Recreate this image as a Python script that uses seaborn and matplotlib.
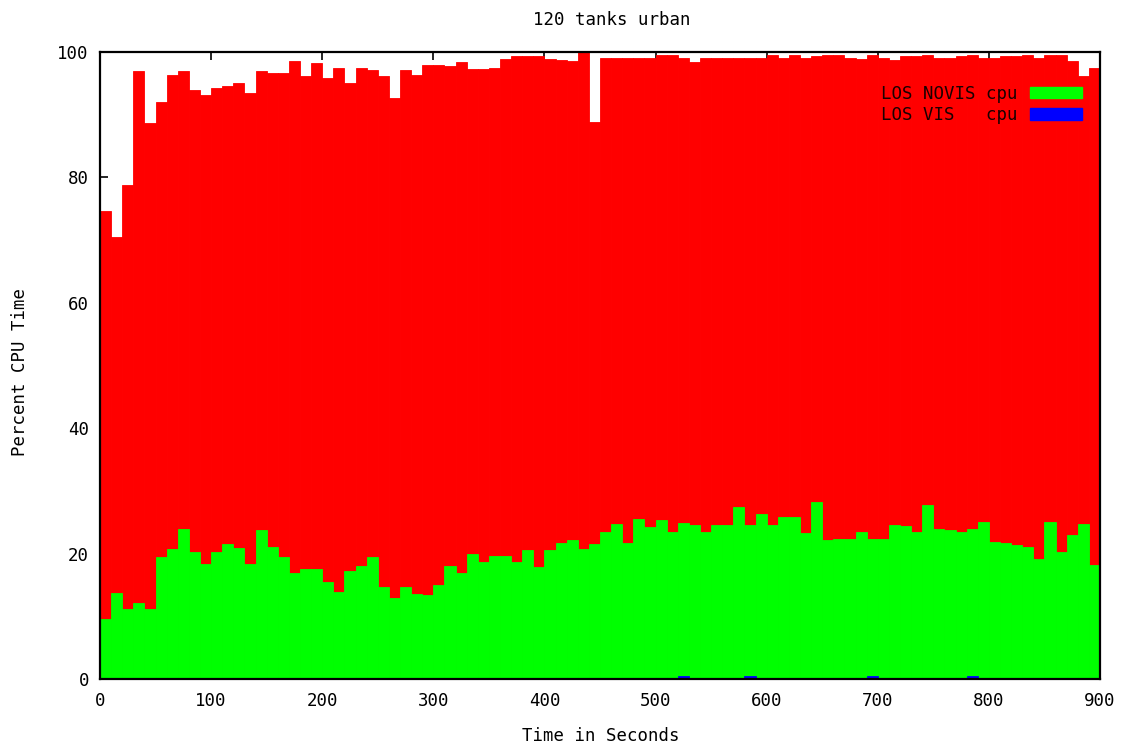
import numpy as np
import pandas as pd
import matplotlib
matplotlib.use("Agg")
import matplotlib.pyplot as plt
from matplotlib.patches import Patch
import seaborn as sns

# ---- data (10-second bins, 0..900 s) ----
bin_start = np.arange(0, 900, 10)

total_cpu = [74.7, 70.5, 78.8, 96.9, 88.6, 92.1, 96.3, 96.9, 93.9, 93.1,
             94.2, 94.5, 95.0, 93.4, 96.9, 96.6, 96.6, 98.5, 96.1, 98.2,
             95.8, 97.4, 95.0, 97.4, 97.1, 96.1, 92.6, 97.1, 96.3, 97.9,
             98.0, 97.8, 98.4, 97.3, 97.3, 97.5, 98.9, 99.3, 99.3, 99.3,
             98.9, 98.7, 98.5, 100.0, 88.8, 99.1, 99.1, 99.1, 99.1, 99.1,
             99.6, 99.6, 99.1, 98.4, 99.0, 99.0, 99.0, 99.0, 99.0, 99.0,
             99.6, 99.0, 99.6, 99.1, 99.3, 99.6, 99.6, 99.1, 98.9, 99.6,
             99.0, 98.7, 99.3, 99.3, 99.5, 99.0, 99.0, 99.3, 99.6, 99.1,
             99.0, 99.3, 99.3, 99.5, 99.1, 99.5, 99.5, 98.5, 96.1, 97.4]

los_novis_cpu = [9.5, 13.7, 11.2, 12.1, 11.2, 19.4, 20.7, 23.9, 20.3, 18.4,
                 20.3, 21.6, 20.9, 18.4, 23.7, 21.1, 19.5, 16.9, 17.5, 17.5,
                 15.5, 13.9, 17.3, 18.0, 19.4, 14.7, 12.9, 14.7, 13.6, 13.4,
                 15.0, 18.0, 16.9, 19.9, 18.7, 19.6, 19.6, 18.7, 20.5, 17.8,
                 20.5, 21.7, 22.1, 20.8, 21.6, 23.5, 24.8, 21.7, 25.5, 24.3,
                 25.3, 23.5, 24.9, 24.6, 23.5, 24.6, 24.6, 27.5, 24.6, 26.3,
                 24.6, 25.9, 25.9, 23.3, 28.3, 22.2, 22.4, 22.4, 23.5, 22.3,
                 22.3, 24.6, 24.4, 23.5, 27.8, 24.0, 23.7, 23.5, 24.0, 25.1,
                 21.9, 21.7, 21.4, 21.0, 19.2, 25.1, 20.3, 23.0, 24.8, 18.2]

# LOS VIS cpu: only a few non-zero bins (seconds -> percent)
los_vis_nonzero = {520: 0.5, 580: 0.5, 690: 0.5, 780: 0.5}
los_vis_cpu = [los_vis_nonzero.get(int(t), 0.0) for t in bin_start]

x_ticks = [0, 100, 200, 300, 400, 500, 600, 700, 800, 900]
y_ticks = [0, 20, 40, 60, 80, 100]

df = pd.DataFrame({
    "t": bin_start + 5,
    "total": total_cpu,
    "novis": los_novis_cpu,
    "vis": los_vis_cpu,
})

# ---- style ----
sns.set_theme(style="ticks")
plt.rcParams["font.family"] = ["DejaVu Sans Mono", "DejaVu Sans"]

W, H = 1127, 751
fig = plt.figure(figsize=(W / 100, H / 100), dpi=100)
ax = fig.add_axes([100 / W, 72 / H, 1000 / W, 627 / H])

RED, GREEN, BLUE = "#ff0000", "#00ff00", "#0000ff"
for col, c in (("total", RED), ("novis", GREEN), ("vis", BLUE)):
    sns.barplot(data=df, x="t", y=col, native_scale=True, width=1.0,
                color=c, saturation=1, errorbar=None,
                edgecolor=c, linewidth=0.6, ax=ax)

ax.set_xlim(0, 900)
ax.set_ylim(0, 100)
ax.set_xticks(x_ticks)
ax.set_yticks(y_ticks)
ax.set_xticklabels([str(v) for v in x_ticks])
ax.set_yticklabels([str(v) for v in y_ticks])
ax.set_xlabel("")
ax.set_ylabel("")
ax.set_axisbelow(True)
ax.tick_params(axis="both", direction="in", length=6, width=1.2,
               colors="black", labelsize=12.5,
               top=True, right=True, bottom=True, left=True)
ax.tick_params(axis="x", pad=9)
ax.tick_params(axis="y", pad=8)
for s in ax.spines.values():
    s.set_color("black")
    s.set_linewidth(1.6)
    s.set_visible(True)

handles = [Patch(facecolor=GREEN, edgecolor=GREEN),
           Patch(facecolor=BLUE, edgecolor=BLUE)]
labels = ["LOS NOVIS cpu", "LOS VIS   cpu"]
leg = ax.legend(handles, labels, loc="upper right",
                bbox_to_anchor=(0.982, 0.948), frameon=False,
                markerfirst=False, fontsize=12.5, borderpad=0,
                borderaxespad=0, handlelength=3.0, handleheight=0.62,
                handletextpad=0.7, labelspacing=0.2)
for t in leg.get_texts():
    t.set_color("#1a0000")

fig.text(612 / W, 1 - 20 / H, "120 tanks urban", ha="center", va="center",
         fontsize=12.5, color="black")
fig.text(601 / W, 1 - 736 / H, "Time in Seconds", ha="center", va="center",
         fontsize=12.5, color="black")
fig.text(20 / W, 1 - 372 / H, "Percent CPU Time", ha="center", va="center",
         rotation=90, fontsize=12.5, color="black")

fig.savefig("out.png", dpi=100, facecolor="white")
